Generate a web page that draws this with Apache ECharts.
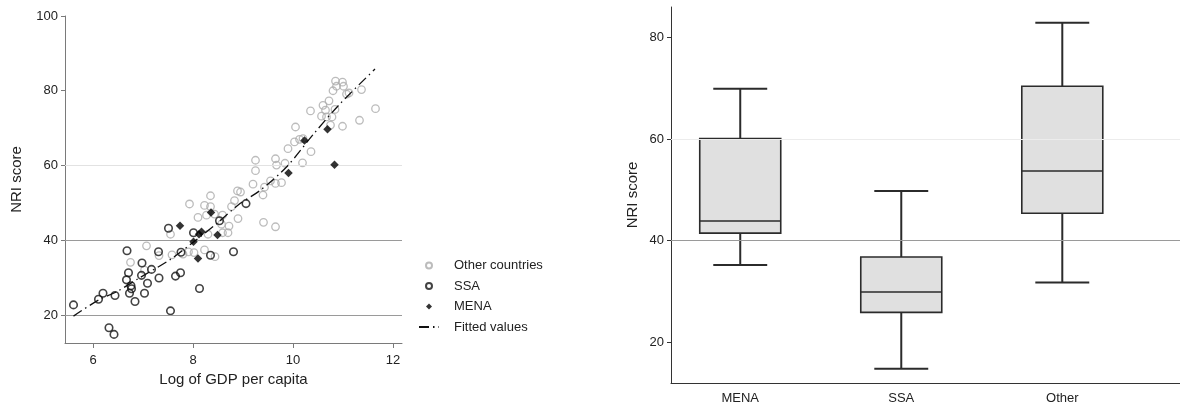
<!DOCTYPE html>
<html>
<head>
<meta charset="utf-8">
<script src="https://cdn.jsdelivr.net/npm/echarts@6/dist/echarts.min.js"></script>
<style>
  html, body { margin: 0; padding: 0; background: #ffffff; }
  #chart { width: 1180px; height: 409px; }
</style>
</head>
<body>
<div id="chart"></div>
<script>
// ---- Scatter: NRI score against log of GDP per capita ----
const otherCountries = [
  [10.85, 82.6], [10.99, 82.3], [10.87, 81.2], [11.01, 81.2], [10.80, 80.0],
  [11.07, 79.1], [11.12, 79.4], [11.37, 80.3], [10.60, 76.1], [10.72, 77.3],
  [10.65, 74.8], [10.57, 73.2], [10.84, 75.0], [10.67, 73.0], [10.78, 73.0],
  [10.75, 70.8], [10.35, 74.6], [11.65, 75.2], [11.33, 72.1], [10.99, 70.5],
  [10.05, 70.3], [10.03, 66.3], [9.90, 64.5], [10.13, 67.0], [10.20, 67.2],
  [10.36, 63.7], [10.19, 60.7], [9.65, 61.8], [9.67, 60.1], [9.84, 60.6],
  [8.35, 51.9], [8.23, 49.3], [8.35, 49.0], [8.89, 53.2], [8.83, 50.6],
  [8.95, 52.9], [8.77, 49.0], [9.20, 55.0], [9.25, 58.6], [9.25, 61.4],
  [9.43, 54.2], [9.40, 52.1], [9.55, 55.9], [9.65, 55.2], [9.77, 55.4],
  [9.41, 44.8], [9.65, 43.6], [8.90, 45.8], [8.72, 43.8],
  [7.93, 49.7], [8.10, 46.1], [8.27, 46.7], [8.43, 47.0], [8.59, 46.7],
  [8.59, 42.0], [8.70, 42.0], [8.30, 41.6], [8.23, 37.4], [8.44, 35.6],
  [7.55, 41.6], [7.58, 36.1], [7.80, 36.3], [7.91, 36.9], [8.02, 36.7],
  [7.07, 38.5], [6.75, 34.1], [7.03, 32.0], [7.32, 35.9], [8.57, 44.3]
];
const ssaCountries = [
  [5.61, 22.7], [6.11, 24.2], [6.20, 25.8], [6.44, 25.2], [6.32, 16.6],
  [6.42, 14.8], [6.68, 37.2], [6.71, 31.3], [6.67, 29.4], [6.76, 27.8],
  [6.77, 27.0], [6.73, 25.8], [6.84, 23.6], [6.98, 33.9], [6.97, 30.6],
  [7.03, 25.8], [7.09, 28.5], [7.17, 32.2], [7.31, 36.9], [7.32, 29.9],
  [7.51, 43.2], [7.55, 21.1], [7.65, 30.4], [7.75, 31.3], [7.76, 36.8],
  [8.01, 42.0], [8.13, 27.1], [8.35, 36.0], [8.53, 45.2], [8.81, 36.9],
  [9.06, 49.8]
];
const menaCountries = [
  [7.74, 43.9], [8.01, 39.6], [8.10, 35.1], [8.12, 41.6], [8.17, 42.3],
  [8.36, 47.4], [8.49, 41.4], [9.91, 58.0], [10.23, 66.7], [10.69, 69.7],
  [10.83, 60.2]
];
const fittedValues = [
  [5.61, 19.7], [6.11, 24.0], [6.47, 26.2], [6.94, 30.0], [7.54, 34.8],
  [8.01, 39.5], [8.47, 44.4], [8.94, 49.8], [9.34, 53.3], [9.87, 59.6],
  [10.41, 68.4], [10.94, 76.5], [11.64, 85.8]
];
const gdpTicks = [6, 8, 10, 12];
const scoreTicks = [20, 40, 60, 80, 100];

// ---- Box plot: NRI score by region ----
const boxGroups = ['MENA', 'SSA', 'Other'];
const boxMin    = [35.2, 14.8, 31.8];
const boxQ1     = [41.5, 25.9, 45.4];
const boxMedian = [43.9, 29.9, 53.7];
const boxQ3     = [60.1, 36.8, 70.4];
const boxMax    = [69.9, 49.8, 82.9];
const boxScoreTicks = [20, 40, 60, 80];

const FONT = "'Liberation Sans', Arial, sans-serif";
const TEXT = '#222222';
// square-aspect diamond for the legend key
const DIAMOND_ICON = 'path://M5,0 L10,5 L5,10 L0,5 Z';

const boxData = boxGroups.map((g, i) => [i + 1, boxMin[i], boxQ1[i], boxMedian[i], boxQ3[i], boxMax[i]]);

function renderBox(params, api) {
  const x = api.value(0);
  const lo = api.coord([x, api.value(1)]);
  const q1 = api.coord([x, api.value(2)]);
  const md = api.coord([x, api.value(3)]);
  const q3 = api.coord([x, api.value(4)]);
  const hi = api.coord([x, api.value(5)]);
  const boxW = api.size([0.503, 0])[0];
  const capW = api.size([0.335, 0])[0];
  const cx = lo[0];
  const line = { stroke: '#2b2b2b', lineWidth: 2 };
  return {
    type: 'group',
    children: [
      { type: 'line', shape: { x1: cx, y1: hi[1], x2: cx, y2: q3[1] }, style: line },
      { type: 'line', shape: { x1: cx, y1: q1[1], x2: cx, y2: lo[1] }, style: line },
      { type: 'line', shape: { x1: cx - capW / 2, y1: hi[1], x2: cx + capW / 2, y2: hi[1] }, style: line },
      { type: 'line', shape: { x1: cx - capW / 2, y1: lo[1], x2: cx + capW / 2, y2: lo[1] }, style: line },
      { type: 'rect', shape: { x: cx - boxW / 2, y: q3[1], width: boxW, height: q1[1] - q3[1] },
        style: { fill: '#e0e0e0', stroke: '#2b2b2b', lineWidth: 1.6 } },
      { type: 'line', shape: { x1: cx - boxW / 2, y1: md[1], x2: cx + boxW / 2, y2: md[1] },
        style: { stroke: '#2b2b2b', lineWidth: 1.5 } }
    ]
  };
}

const chart = echarts.init(document.getElementById('chart'), null, { renderer: 'canvas' });

const option = {
  animation: false,
  backgroundColor: '#ffffff',
  textStyle: { fontFamily: FONT, color: TEXT },
  grid: [
    { left: 65, top: 16, width: 337, height: 327 },
    { left: 671, top: 7, width: 509, height: 376 }
  ],
  legend: {
    orient: 'vertical',
    left: 413,
    top: 254,
    itemWidth: 20,
    itemHeight: 6,
    itemGap: 7.5,
    symbolKeepAspect: true,
    data: [
      { name: 'Other countries' },
      { name: 'SSA' },
      { name: 'MENA', icon: DIAMOND_ICON },
      { name: 'Fitted values' }
    ],
    textStyle: { fontFamily: FONT, fontSize: 13, color: TEXT, padding: [0, 0, 0, 10] }
  },
  xAxis: [
    {
      type: 'value', gridIndex: 0, min: 5.44, max: 12.18,
      name: 'Log of GDP per capita', nameLocation: 'middle', nameGap: 29,
      nameTextStyle: { fontFamily: FONT, fontSize: 15, color: TEXT },
      axisLine: { show: true, lineStyle: { color: '#7a7a7a', width: 1 } },
      axisTick: { show: true, length: 5, customValues: gdpTicks, lineStyle: { color: '#7a7a7a' } },
      axisLabel: { customValues: gdpTicks, margin: 11, fontFamily: FONT, fontSize: 13, color: TEXT },
      splitLine: { show: false }
    },
    {
      type: 'value', gridIndex: 1, min: 0.57, max: 3.731,
      axisLine: { show: true, lineStyle: { color: '#333333', width: 1 } },
      axisTick: { show: false },
      axisLabel: {
        customValues: [1, 2, 3], margin: 9, fontFamily: FONT, fontSize: 13, color: TEXT,
        formatter: v => boxGroups[Math.round(v) - 1] || ''
      },
      splitLine: { show: false }
    }
  ],
  yAxis: [
    {
      type: 'value', gridIndex: 0, min: 12.5, max: 100,
      name: 'NRI score', nameLocation: 'middle', nameGap: 41,
      nameTextStyle: { fontFamily: FONT, fontSize: 15, color: TEXT },
      axisLine: { show: true, lineStyle: { color: '#7a7a7a', width: 1 } },
      axisTick: { show: true, length: 4, customValues: scoreTicks, lineStyle: { color: '#7a7a7a' } },
      axisLabel: { customValues: scoreTicks, margin: 7, fontFamily: FONT, fontSize: 13, color: TEXT },
      splitLine: { show: false }
    },
    {
      type: 'value', gridIndex: 1, min: 12, max: 86,
      name: 'NRI score', nameLocation: 'middle', nameGap: 31,
      nameTextStyle: { fontFamily: FONT, fontSize: 15, color: TEXT },
      axisLine: { show: true, lineStyle: { color: '#333333', width: 1 } },
      axisTick: { show: true, length: 4, customValues: boxScoreTicks, lineStyle: { color: '#333333' } },
      axisLabel: { customValues: boxScoreTicks, margin: 7, fontFamily: FONT, fontSize: 13, color: TEXT },
      splitLine: { show: false }
    }
  ],
  series: [
    {
      name: 'Other countries', type: 'scatter', xAxisIndex: 0, yAxisIndex: 0,
      symbol: 'circle', symbolSize: 7.5,
      itemStyle: { color: 'rgba(255,255,255,0)', borderColor: '#ababab', borderWidth: 1.3 },
      data: otherCountries, z: 3,
      markLine: {
        silent: true, symbol: ['none', 'none'], label: { show: false },
        animation: false,
        data: [
          { yAxis: 20, lineStyle: { color: '#9a9a9a', width: 1, type: 'solid' } },
          { yAxis: 40, lineStyle: { color: '#9a9a9a', width: 1, type: 'solid' } },
          { yAxis: 60, lineStyle: { color: '#e2e2e2', width: 1, type: 'solid' } }
        ]
      }
    },
    {
      name: 'SSA', type: 'scatter', xAxisIndex: 0, yAxisIndex: 0,
      symbol: 'circle', symbolSize: 7.5,
      itemStyle: { color: 'rgba(255,255,255,0)', borderColor: '#141414', borderWidth: 1.6 },
      data: ssaCountries, z: 4
    },
    {
      name: 'Fitted values', type: 'line', xAxisIndex: 0, yAxisIndex: 0,
      symbol: 'none', smooth: 0.3,
      lineStyle: { color: '#111111', width: 1.3, type: [10, 4, 1.5, 4] },
      itemStyle: { color: 'rgba(0,0,0,0)', borderWidth: 0 },
      data: fittedValues, z: 5
    },
    {
      name: 'MENA', type: 'scatter', xAxisIndex: 0, yAxisIndex: 0,
      symbol: 'diamond', symbolSize: 8.5,
      itemStyle: { color: '#000000' },
      data: menaCountries, z: 6
    },
    {
      name: 'gridlines', type: 'line', xAxisIndex: 1, yAxisIndex: 1,
      data: [], z: 1,
      markLine: {
        silent: true, symbol: ['none', 'none'], label: { show: false },
        animation: false,
        data: [
          { yAxis: 40, lineStyle: { color: '#9a9a9a', width: 1, type: 'solid' } },
          { yAxis: 60, lineStyle: { color: '#ececec', width: 1, type: 'solid' } }
        ]
      }
    },
    {
      name: 'NRI by region', type: 'custom', xAxisIndex: 1, yAxisIndex: 1,
      renderItem: renderBox,
      encode: { x: 0, y: [1, 2, 3, 4, 5] },
      data: boxData, z: 3
    }
  ]
};

chart.setOption(option);
</script>
</body>
</html>
